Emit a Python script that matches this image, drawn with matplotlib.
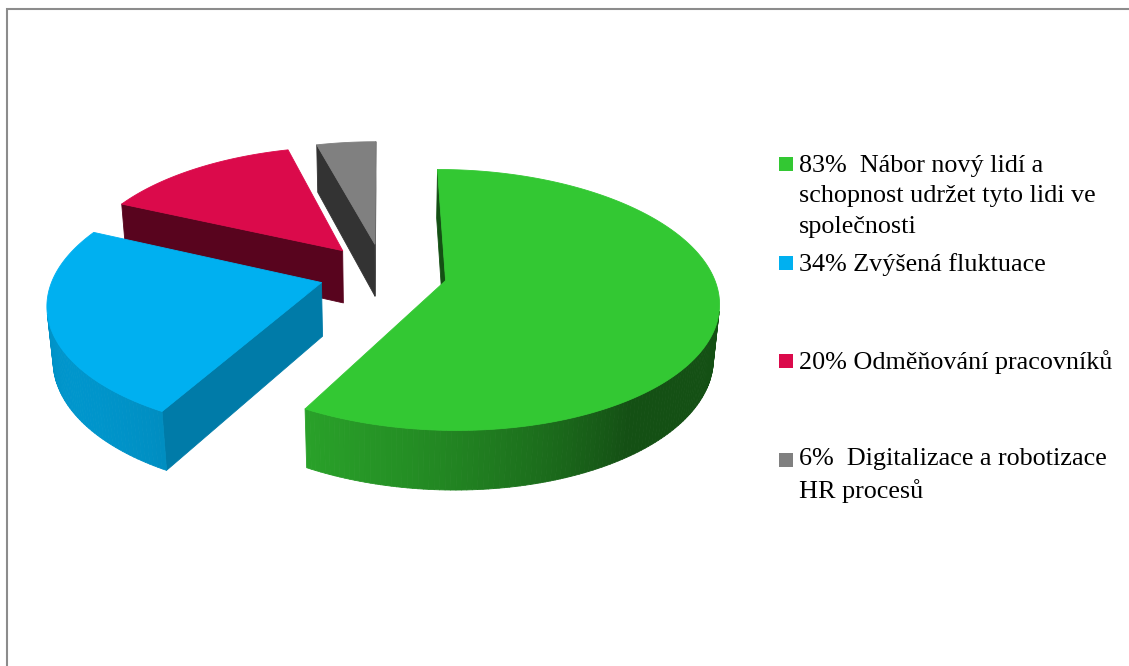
import numpy as np
import matplotlib.pyplot as plt
from matplotlib.patches import Polygon, Rectangle
from matplotlib.colors import to_rgb

# survey answers (share of respondents)
values = [83, 34, 20, 6]
labels = ['83%  Nábor nový lidí a\nschopnost udržet tyto lidi ve\nspolečnosti',
          '34% Zvýšená fluktuace',
          '20% Odměňování pracovníků',
          '6%  Digitalizace a robotizace\nHR procesů']
colors = ['#33C833', '#00B0F0', '#DB0A4B', '#808080']

W, H = 1129, 666
fig = plt.figure(figsize=(W / 100, H / 100), dpi=100)
ax = fig.add_axes([0, 0, 1, 1])
ax.set_xlim(0, W)
ax.set_ylim(H, 0)
ax.axis('off')

# camera for the 3-D pie (world units = pie radius, z up, y away from viewer)
cx, cy = 383, 273
scale = 267
elev = np.radians(28)
dist = 6.0
thick = 0.23
explode = 0.24

cam = np.array([0, -dist * np.cos(elev), dist * np.sin(elev)])
fwd = np.array([0, np.cos(elev), -np.sin(elev)])
up = np.array([0, np.sin(elev), np.cos(elev)])


def project(pts):
    pts = np.atleast_2d(pts)
    k = dist / ((pts - cam) @ fwd)
    return np.column_stack([cx + scale * pts[:, 0] * k,
                            cy - scale * (pts @ up) * k])


def shade(c, f):
    return tuple(np.clip(np.array(to_rgb(c)) * f, 0, 1))


def wall_factor(t):
    return 0.4 + 0.45 * max(0.0, np.cos(t + np.radians(145)))


def face(pts, col):
    ax.add_patch(Polygon(project(pts), closed=True, facecolor=col,
                         edgecolor=col, linewidth=0.6, joinstyle='round'))


def visible(normal, point):
    return np.dot(normal, cam - point) > 0


fracs = np.array(values) / sum(values)
bounds = 90 - 360 * np.concatenate([[0], np.cumsum(fracs)])

slices = []
for i, col in enumerate(colors):
    t2, t1 = np.radians(bounds[i]), np.radians(bounds[i + 1])
    mid = (t1 + t2) / 2
    off = explode * np.array([np.cos(mid), np.sin(mid), 0])
    slices.append((off[1], t1, t2, off, col))

# back slices first
for _, t1, t2, off, col in sorted(slices, key=lambda s: -s[0]):
    n = max(int(np.degrees(t2 - t1)), 4)
    ts = np.linspace(t1, t2, n + 1)
    rim = np.column_stack([np.cos(ts), np.sin(ts), np.zeros_like(ts)]) + off
    rim_b = rim - [0, 0, thick]
    apex = off
    apex_b = off - [0, 0, thick]

    # radial sides
    for t, rt, rb, nrm in [(t1, rim[0], rim_b[0], np.array([np.sin(t1), -np.cos(t1), 0])),
                           (t2, rim[-1], rim_b[-1], np.array([-np.sin(t2), np.cos(t2), 0]))]:
        if visible(nrm, (apex + rt) / 2):
            f = 0.4 if nrm[0] < 0 else 0.7
            face([apex, rt, rb, apex_b], shade(col, f))

    # outer wall
    for j in range(n):
        tm = (ts[j] + ts[j + 1]) / 2
        nrm = np.array([np.cos(tm), np.sin(tm), 0])
        if visible(nrm, rim[j]):
            face([rim[j], rim[j + 1], rim_b[j + 1], rim_b[j]],
                 shade(col, wall_factor(tm)))

    # top
    face(np.vstack([apex, rim]), col)

# legend: square sits on the first line, text is anchored at its last line
font = {'family': 'Liberation Serif', 'size': 18.8}
line_h = 30.3
first_baselines = [172, 271, 369, 468]
for lab, col, y in zip(labels, colors, first_baselines):
    ax.add_patch(Rectangle((779, y - 15), 14, 14, facecolor=col, edgecolor='none'))
    last = y + line_h * lab.count('\n')
    ax.text(799, last, lab, ha='left', va='baseline', linespacing=1.5,
            color='black', fontdict=font)

# chart frame
ax.plot([7, 7, W], [H, 9, 9], color='#8C8C8C', linewidth=1.5,
        solid_joinstyle='miter')

fig.savefig('out.png', dpi=100)
